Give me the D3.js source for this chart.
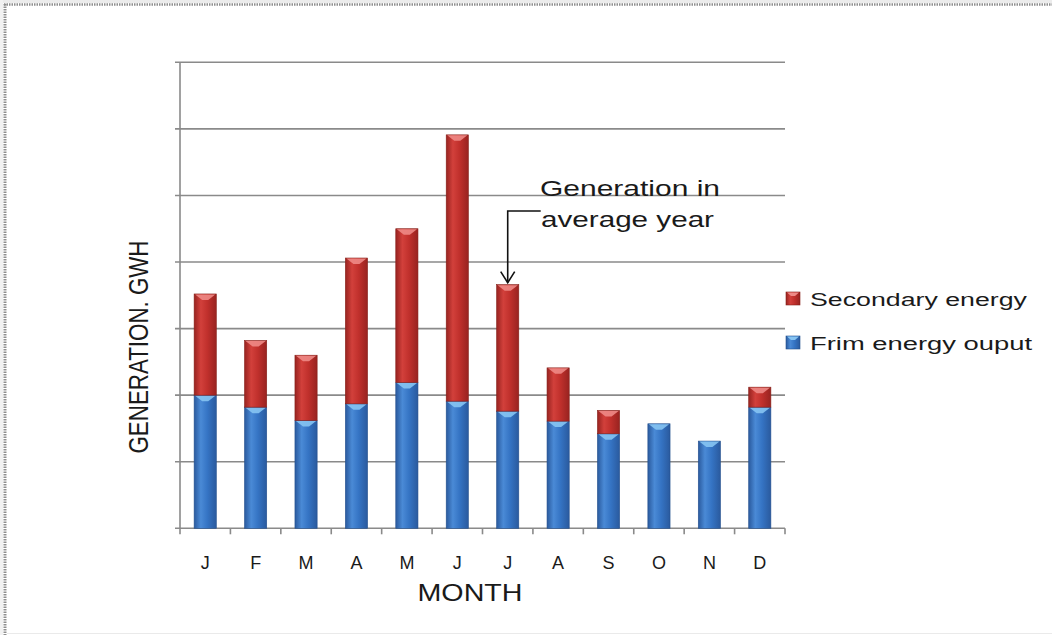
<!DOCTYPE html>
<html>
<head>
<meta charset="utf-8">
<script src="https://cdn.jsdelivr.net/npm/d3@7"></script>
<style>
  html, body { margin: 0; padding: 0; background: #fff; }
  svg { display: block; }
  text { font-family: "Liberation Sans", Arial, sans-serif; fill: #1a1a1a; }
</style>
</head>
<body>
<svg id="chart" width="1052" height="635"></svg>
<script>
// Monthly generation (GWH, in gridline units)
const months = ["J", "F", "M", "A", "M", "J", "J", "A", "S", "O", "N", "D"];
const firmEnergy = [2.0, 1.82, 1.62, 1.87, 2.19, 1.91, 1.76, 1.61, 1.42, 1.57, 1.31, 1.82];
const secondaryEnergy = [1.52, 1.0, 0.98, 2.19, 2.31, 4.0, 1.9, 0.8, 0.35, 0, 0, 0.3];
const seriesNames = ["Frim energy ouput", "Secondary energy"];
const yTicks = [0, 1, 2, 3, 4, 5, 6, 7];
const annotationLines = ["Generation in", "average year"];
const annotatedMonth = 6;

const svg = d3.select("#chart");
const W = 1052, H = 635;
const plot = { left: 180, right: 785, top: 62.3, bottom: 528.3 };

// page frame
svg.append("rect").attr("x", 0).attr("y", 0).attr("width", W).attr("height", 3).attr("fill", "#ececec");
svg.append("rect").attr("x", 0).attr("y", 0).attr("width", 3).attr("height", H).attr("fill", "#f2f2f2");
svg.append("line").attr("x1", 4).attr("x2", W).attr("y1", 4.5).attr("y2", 4.5)
  .attr("stroke", "#8f8f8f").attr("stroke-width", 2.5).attr("stroke-dasharray", "1.5,1");
svg.append("line").attr("x1", 5).attr("x2", 5).attr("y1", 4).attr("y2", H)
  .attr("stroke", "#8f8f8f").attr("stroke-width", 3).attr("stroke-dasharray", "1.5,1");
svg.append("line").attr("x1", 7).attr("x2", W).attr("y1", 633.5).attr("y2", 633.5)
  .attr("stroke", "#eaeaea").attr("stroke-width", 1);

const x = d3.scaleBand().domain(d3.range(months.length))
  .range([plot.left, plot.right]).paddingInner(0.56).paddingOuter(0.28);
const y = d3.scaleLinear().domain([0, 7]).range([plot.bottom, plot.top]);

// gradients for the cylinder look
const defs = svg.append("defs");
function cylGrad(id, dark, mid, light) {
  const g = defs.append("linearGradient").attr("id", id).attr("x1", "0%").attr("x2", "100%");
  g.append("stop").attr("offset", "0%").attr("stop-color", dark);
  g.append("stop").attr("offset", "30%").attr("stop-color", light);
  g.append("stop").attr("offset", "60%").attr("stop-color", mid);
  g.append("stop").attr("offset", "100%").attr("stop-color", dark);
}
cylGrad("gradBlue", "#2a5a9e", "#3574c4", "#4a8ad6");
cylGrad("gradRed", "#982320", "#c0302c", "#d2403b");

// gridlines
svg.append("g").selectAll("line").data(yTicks.slice(1)).join("line")
  .attr("x1", plot.left - 5).attr("x2", plot.right)
  .attr("y1", d => y(d)).attr("y2", d => y(d))
  .attr("stroke", "#8a8a8a").attr("stroke-width", 1.6);

// y axis line
svg.append("line").attr("x1", plot.left).attr("x2", plot.left)
  .attr("y1", plot.top).attr("y2", plot.bottom + 0.5)
  .attr("stroke", "#8a8a8a").attr("stroke-width", 1.6);

// x axis with ticks at band boundaries
const xAxisG = svg.append("g");
xAxisG.append("line").attr("x1", plot.left - 5).attr("x2", plot.right)
  .attr("y1", plot.bottom).attr("y2", plot.bottom)
  .attr("stroke", "#8a8a8a").attr("stroke-width", 1.6);
const boundaries = d3.range(months.length + 1).map(i => plot.left + (plot.right - plot.left) * i / months.length);
xAxisG.selectAll("line.tick").data(boundaries).join("line").attr("class", "tick")
  .attr("x1", d => d).attr("x2", d => d)
  .attr("y1", plot.bottom).attr("y2", plot.bottom + 6)
  .attr("stroke", "#8a8a8a").attr("stroke-width", 1.6);
xAxisG.selectAll("text").data(months).join("text")
  .attr("x", (d, i) => x(i) + x.bandwidth() / 2)
  .attr("y", 568.5)
  .attr("text-anchor", "middle")
  .attr("font-size", 18)
  .text(d => d);

// stacked bars
const stackData = months.map((m, i) => ({ i, firm: firmEnergy[i], secondary: secondaryEnergy[i] }));
const stack = d3.stack().keys(["firm", "secondary"]);
const layers = stack(stackData);
const fills = ["url(#gradBlue)", "url(#gradRed)"];
const capColors = ["#86c4f2", "#ee8a86"];
const edgeColors = ["#24508e", "#862019"];

layers.forEach((layer, li) => {
  const g = svg.append("g");
  const segs = layer.filter(d => d[1] - d[0] > 0);
  g.selectAll("rect").data(segs).join("rect")
    .attr("x", d => x(d.data.i))
    .attr("y", d => y(d[1]))
    .attr("width", x.bandwidth())
    .attr("height", d => y(d[0]) - y(d[1]))
    .attr("fill", fills[li])
    .attr("stroke", edgeColors[li]).attr("stroke-width", 0.6);
  // light chevron cap at the top of each segment
  g.selectAll("path").data(segs).join("path")
    .attr("d", d => {
      const x0 = x(d.data.i), w = x.bandwidth(), t = y(d[1]);
      return `M${x0 + 1},${t + 0.5} L${x0 + w - 1},${t + 0.5} L${x0 + w / 2 + 3},${t + 6} L${x0 + w / 2 - 3},${t + 6} Z`;
    })
    .attr("fill", capColors[li]).attr("opacity", 0.9);
});

// annotation with elbow arrow
const annX = x(annotatedMonth) + x.bandwidth() / 2;
const tipY = y(firmEnergy[annotatedMonth] + secondaryEnergy[annotatedMonth]) - 2;
const elbowY = 211;
const ann = svg.append("g").attr("stroke", "#111").attr("stroke-width", 1.6).attr("fill", "none");
ann.append("path").attr("d", `M${annX + 33},${elbowY} L${annX},${elbowY} L${annX},${tipY}`);
ann.append("path").attr("d", `M${annX - 7},${tipY - 11} L${annX},${tipY} L${annX + 7},${tipY - 11}`);

svg.append("text").attr("x", 540).attr("y", 196).attr("font-size", 22)
  .attr("textLength", 180).attr("lengthAdjust", "spacingAndGlyphs")
  .text(annotationLines[0]);
svg.append("text").attr("x", 541).attr("y", 227).attr("font-size", 22)
  .attr("textLength", 173).attr("lengthAdjust", "spacingAndGlyphs")
  .text(annotationLines[1]);

// legend (secondary listed first)
const legendItems = [
  { name: seriesNames[1], fill: "url(#gradRed)", cap: capColors[1], edge: edgeColors[1], y: 292, len: 217 },
  { name: seriesNames[0], fill: "url(#gradBlue)", cap: capColors[0], edge: edgeColors[0], y: 336, len: 222 }
];
const lg = svg.append("g");
legendItems.forEach(it => {
  lg.append("rect").attr("x", 786).attr("y", it.y).attr("width", 14).attr("height", 13)
    .attr("fill", it.fill).attr("stroke", it.edge).attr("stroke-width", 0.6);
  lg.append("path").attr("d", `M787,${it.y + 0.5} L799,${it.y + 0.5} L795,${it.y + 4} L791,${it.y + 4} Z`)
    .attr("fill", it.cap);
  lg.append("text").attr("x", 810).attr("y", it.y + 14).attr("font-size", 17.5)
    .attr("textLength", it.len).attr("lengthAdjust", "spacingAndGlyphs")
    .text(it.name);
});

// axis titles
svg.append("text").attr("x", 470).attr("y", 601).attr("text-anchor", "middle")
  .attr("font-size", 24).attr("textLength", 105).attr("lengthAdjust", "spacingAndGlyphs")
  .text("MONTH");
svg.append("text")
  .attr("transform", "translate(148,347) rotate(-90)")
  .attr("text-anchor", "middle")
  .attr("font-size", 28).attr("textLength", 213).attr("lengthAdjust", "spacingAndGlyphs")
  .text("GENERATION. GWH");
</script>
</body>
</html>
